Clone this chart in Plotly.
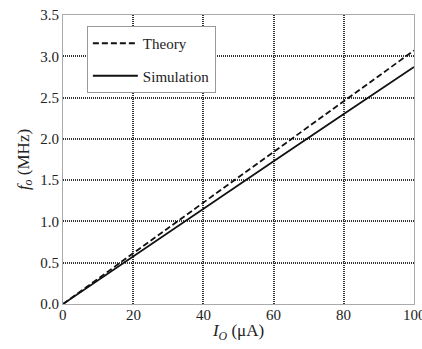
import plotly.graph_objects as go

x_theory = [0, 20, 40, 60, 80, 100]
y_theory = [0.0, 0.614, 1.228, 1.842, 2.456, 3.07]
x_sim = [0, 20, 40, 60, 80, 100]
y_sim = [0.0, 0.58, 1.155, 1.73, 2.30, 2.87]

x_ticks = [0, 20, 40, 60, 80, 100]
x_ticklabels = ["0", "20", "40", "60", "80", "100"]
y_ticks = [0.0, 0.5, 1.0, 1.5, 2.0, 2.5, 3.0, 3.5]
y_ticklabels = [f"{v:.1f}" for v in y_ticks]

font = "Liberation Serif"
tcol = "#222"

fig = go.Figure()
fig.add_trace(go.Scatter(x=x_theory, y=y_theory, mode="lines", name="Theory", legendgroup="a",
                         line=dict(color="#111", width=1.8, dash="6px,3px")))
fig.add_trace(go.Scatter(x=x_sim, y=y_sim, mode="lines", name="Simulation", legendgroup="b",
                         line=dict(color="#111", width=1.8)))

axis_common = dict(showgrid=True, gridcolor="#333", griddash="1px,1px", gridwidth=1.5,
                   showline=True, linecolor="#aaa", linewidth=1, mirror=True,
                   zeroline=False, ticks="", tickfont=dict(family=font, size=15, color=tcol))

# x tick labels (the last one overflows the right edge, as in the reference)
fig.update_xaxes(range=[0, 100], tickvals=x_ticks, showticklabels=False,
                 title=dict(text="<i>I<sub>O</sub></i> (μA)", font=dict(family=font, size=17, color=tcol), standoff=20),
                 **axis_common)
for v, t in zip(x_ticks, x_ticklabels):
    fig.add_annotation(x=v, y=0, xref="x", yref="paper", text=t, showarrow=False,
                       xanchor="center", yanchor="top", yshift=-1,
                       font=dict(family=font, size=15, color=tcol))

fig.update_yaxes(range=[0, 3.5], tickvals=y_ticks, ticktext=y_ticklabels,
                 title=dict(text="<i>f<sub>o</sub></i> (MHz)", font=dict(family=font, size=17, color=tcol), standoff=6),
                 **axis_common)

fig.update_layout(
    width=422, height=349,
    margin=dict(l=63, r=7, t=12, b=45),
    paper_bgcolor="white", plot_bgcolor="white",
    showlegend=True,
    legend=dict(x=0.068, y=0.962, xanchor="left", yanchor="top",
                bgcolor="white", bordercolor="#999", borderwidth=1,
                font=dict(family=font, size=15, color=tcol),
                itemwidth=45, tracegroupgap=10),
)

fig.write_html("out.html")
